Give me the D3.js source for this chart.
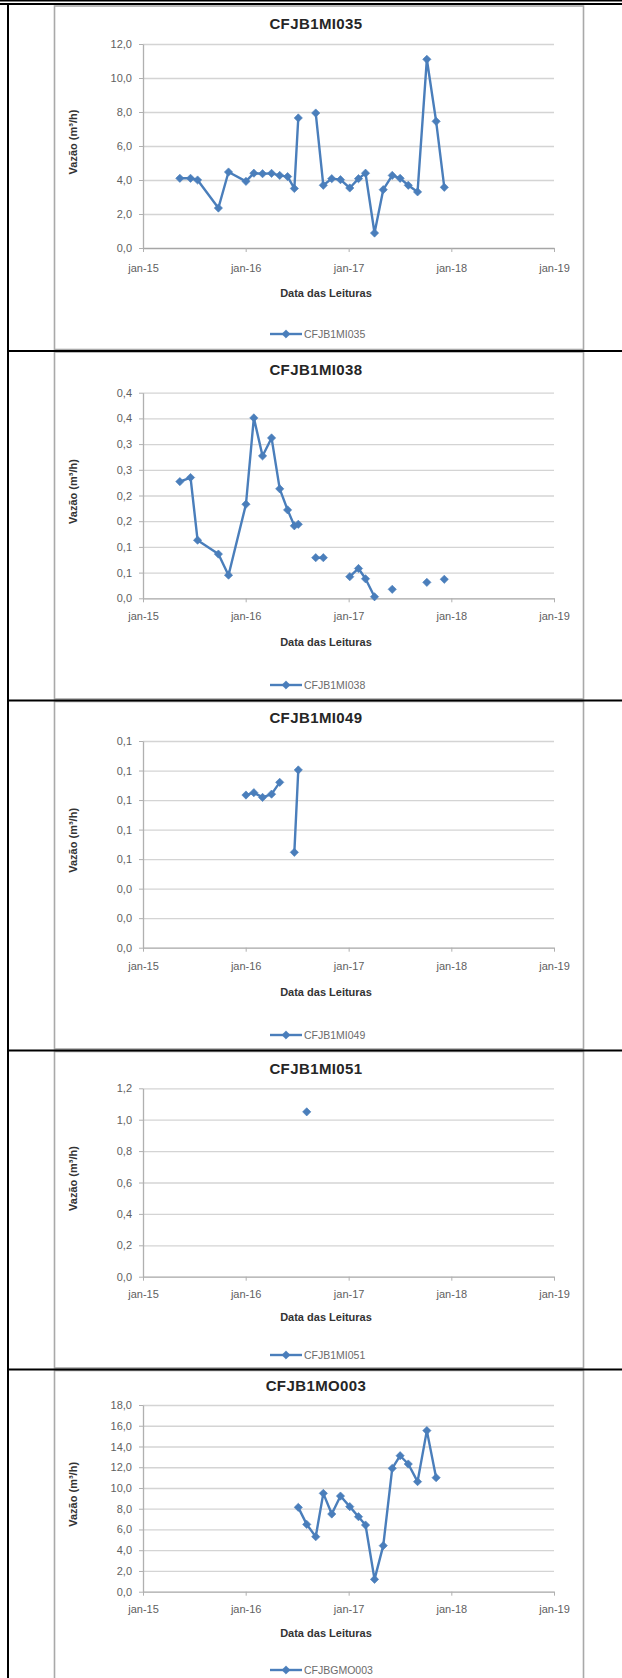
<!DOCTYPE html>
<html>
<head>
<meta charset="utf-8">
<script src="https://cdn.jsdelivr.net/npm/d3@7"></script>
<style>
  body { margin: 0; background: #fff; }
  svg { display: block; }
</style>
</head>
<body>
<svg width="622" height="1678"></svg>
<script>
// reading dates (shared by every instrument, null = no reading)
var readDates = ["2015-05-12", "2015-06-19", "2015-07-14", "2015-09-26", "2015-11-01",
    "2016-01-02", "2016-01-30", "2016-03-01", "2016-04-02", "2016-05-01", "2016-05-29",
    "2016-06-22", "2016-07-06", "2016-08-05", "2016-09-06", "2016-10-03", "2016-11-02",
    "2016-12-03", "2017-01-05", "2017-02-05", "2017-03-02", "2017-04-03", "2017-05-04",
    "2017-06-05", "2017-07-03", "2017-08-01", "2017-09-03", "2017-10-06", "2017-11-08",
    "2017-12-07"];

var vazao035 = [4.1, 4.1, 4.0, 2.35, 4.47, 3.92, 4.4, 4.37, 4.39, 4.27, 4.2, 3.5, 7.65, null,
    7.94, 3.69, 4.08, 4.02, 3.53, 4.08, 4.4, 0.88, 3.43, 4.27, 4.1, 3.69, 3.3, 11.1, 7.45, 3.57];
var vazao038 = [0.227, 0.235, 0.113, 0.086, 0.045, 0.183, 0.351, 0.277, 0.312, 0.213, 0.172,
    0.141, 0.144, null, 0.079, 0.079, null, null, 0.042, 0.058, 0.038, 0.003, null, 0.0175,
    null, null, null, 0.031, null, 0.037];
var vazao049 = [null, null, null, null, null, 0.1034, 0.105, 0.1018, 0.104, 0.112, null,
    0.0646, 0.1204, null, null, null, null, null, null, null, null, null, null, null, null,
    null, null, null, null, null];
var vazao051 = [null, null, null, null, null, null, null, null, null, null, null, null, null,
    1.05, null, null, null, null, null, null, null, null, null, null, null, null, null, null,
    null, null];
var vazao003 = [null, null, null, null, null, null, null, null, null, null, null, null,
    8.13, 6.49, 5.30, 9.48, 7.49, 9.22, 8.20, 7.23, 6.43, 1.19, 4.44, 11.89, 13.11, 12.31,
    10.61, 15.53, 10.99, null];

// axis ticks
var xTickDates = ["2015-01-01", "2016-01-01", "2017-01-01", "2018-01-01", "2019-01-01"];
var xTickLabels = ["jan-15", "jan-16", "jan-17", "jan-18", "jan-19"];

var yTicks035 = [0, 2, 4, 6, 8, 10, 12];
var yLabels035 = ["0,0", "2,0", "4,0", "6,0", "8,0", "10,0", "12,0"];
var yTicks038 = [0, 0.05, 0.1, 0.15, 0.2, 0.25, 0.3, 0.35, 0.4];
var yLabels038 = ["0,0", "0,1", "0,1", "0,2", "0,2", "0,3", "0,3", "0,4", "0,4"];
var yTicks049 = [0, 0.02, 0.04, 0.06, 0.08, 0.1, 0.12, 0.14];
var yLabels049 = ["0,0", "0,0", "0,0", "0,1", "0,1", "0,1", "0,1", "0,1"];
var yTicks051 = [0, 0.2, 0.4, 0.6, 0.8, 1.0, 1.2];
var yLabels051 = ["0,0", "0,2", "0,4", "0,6", "0,8", "1,0", "1,2"];
var yTicks003 = [0, 2, 4, 6, 8, 10, 12, 14, 16, 18];
var yLabels003 = ["0,0", "2,0", "4,0", "6,0", "8,0", "10,0", "12,0", "14,0", "16,0", "18,0"];

var parseDate = d3.timeParse("%Y-%m-%d");
var blue = "#4a7ebb";
var font = "'Liberation Sans', Arial, sans-serif";

// one table row per instrument (vertical layout of each chart picture)
var panels = [
    { name: "CFJB1MI035", legendName: "CFJB1MI035", values: vazao035, yTicks: yTicks035, yLabels: yLabels035,
      top: 5, bottom: 351, title: 23, plotTop: 44, plotBottom: 248, xLab: 268, xTitle: 293, legend: 334 },
    { name: "CFJB1MI038", legendName: "CFJB1MI038", values: vazao038, yTicks: yTicks038, yLabels: yLabels038,
      top: 351, bottom: 700.5, title: 369, plotTop: 392.7, plotBottom: 598.3, xLab: 616, xTitle: 642, legend: 685 },
    { name: "CFJB1MI049", legendName: "CFJB1MI049", values: vazao049, yTicks: yTicks049, yLabels: yLabels049,
      top: 700.5, bottom: 1050.5, title: 717.5, plotTop: 741, plotBottom: 947.7, xLab: 966, xTitle: 992, legend: 1035 },
    { name: "CFJB1MI051", legendName: "CFJB1MI051", values: vazao051, yTicks: yTicks051, yLabels: yLabels051,
      top: 1050.5, bottom: 1369.5, title: 1068, plotTop: 1088.3, plotBottom: 1276.7, xLab: 1294.3, xTitle: 1317, legend: 1355 },
    { name: "CFJB1MO003", legendName: "CFJBGMO003", values: vazao003, yTicks: yTicks003, yLabels: yLabels003,
      top: 1369.5, bottom: 1690, title: 1385, plotTop: 1405, plotBottom: 1591.7, xLab: 1609.3, xTitle: 1632.5, legend: 1670 }
];

var plotLeft = 143, plotRight = 554;

function diamond(sel) {
    sel.append("path")
        .attr("d", d3.symbol().type(d3.symbolSquare).size(34))
        .attr("fill", blue)
        .attr("stroke", blue)
        .attr("stroke-width", 0.6);
}

function drawPanel(svg, p, x) {
    var g = svg.append("g");

    // chart picture frame
    g.append("rect")
        .attr("x", 54.5)
        .attr("y", p.top + 1)
        .attr("width", 529)
        .attr("height", p.bottom - p.top - 2.5)
        .attr("fill", "#fff")
        .attr("stroke", "#a9a9a9")
        .attr("stroke-width", 1.6);

    // title
    g.append("text")
        .attr("x", 316)
        .attr("y", p.title)
        .attr("text-anchor", "middle")
        .attr("dominant-baseline", "central")
        .attr("font-family", font)
        .attr("font-weight", "bold")
        .attr("font-size", "15px")
        .attr("letter-spacing", "0.4px")
        .attr("fill", "#262626")
        .text(p.name);

    var y = d3.scaleLinear()
        .domain([p.yTicks[0], p.yTicks[p.yTicks.length - 1]])
        .range([p.plotBottom, p.plotTop]);

    // gridlines
    var grid = g.append("g")
        .attr("transform", "translate(" + plotLeft + ",0)")
        .call(d3.axisLeft(y).tickValues(p.yTicks.slice(1)).tickSize(-(plotRight - plotLeft)).tickFormat(""));
    grid.select(".domain").remove();
    grid.selectAll("line").attr("stroke", "#d4d4d4").attr("stroke-width", 1.3);

    // y axis with labels
    var yAxis = g.append("g")
        .attr("transform", "translate(" + plotLeft + ",0)")
        .call(d3.axisLeft(y).tickValues(p.yTicks).tickSize(4).tickSizeOuter(0).tickPadding(7)
            .tickFormat(function(d, i) { return p.yLabels[i]; }));
    yAxis.select(".domain").attr("stroke", "#b0b0b0").attr("stroke-width", 1.3);
    yAxis.selectAll("line").attr("stroke", "#b0b0b0");
    yAxis.selectAll("text")
        .attr("font-family", font)
        .attr("font-size", "11px")
        .attr("fill", "#5f5f5f");

    // x axis
    var xAxis = g.append("g")
        .attr("transform", "translate(0," + p.plotBottom + ")")
        .call(d3.axisBottom(x).tickValues(xTickDates.map(parseDate)).tickSize(4).tickSizeOuter(0)
            .tickFormat(function(d, i) { return xTickLabels[i]; }));
    xAxis.select(".domain").attr("stroke", "#a6a6a6").attr("stroke-width", 1.3);
    xAxis.selectAll("line").attr("stroke", "#b0b0b0");
    xAxis.selectAll("text")
        .attr("y", p.xLab - p.plotBottom)
        .attr("dy", "0.35em")
        .attr("font-family", font)
        .attr("font-size", "11px")
        .attr("fill", "#5f5f5f");

    // the series
    var data = readDates.map(function(d, i) { return { date: parseDate(d), value: p.values[i] }; });
    var line = d3.line()
        .defined(function(d) { return d.value != null; })
        .x(function(d) { return x(d.date); })
        .y(function(d) { return y(d.value); });

    g.append("path")
        .datum(data)
        .attr("fill", "none")
        .attr("stroke", blue)
        .attr("stroke-width", 2.4)
        .attr("stroke-linejoin", "round")
        .attr("d", line);

    g.selectAll(".pt")
        .data(data.filter(function(d) { return d.value != null; }))
        .enter().append("g")
        .attr("class", "pt")
        .attr("transform", function(d) { return "translate(" + x(d.date) + "," + y(d.value) + ") rotate(45)"; })
        .call(diamond);

    // axis titles
    g.append("text")
        .attr("transform", "translate(73," + ((p.plotTop + p.plotBottom) / 2 - 4) + ") rotate(-90)")
        .attr("text-anchor", "middle")
        .attr("dominant-baseline", "central")
        .attr("font-family", font)
        .attr("font-weight", "bold")
        .attr("font-size", "11px")
        .attr("fill", "#333")
        .text("Vazão (m³/h)");

    g.append("text")
        .attr("x", 326)
        .attr("y", p.xTitle)
        .attr("text-anchor", "middle")
        .attr("dominant-baseline", "central")
        .attr("font-family", font)
        .attr("font-weight", "bold")
        .attr("font-size", "11px")
        .attr("fill", "#333")
        .text("Data das Leituras");

    // legend
    var lg = g.append("g").attr("transform", "translate(0," + p.legend + ")");
    lg.append("line")
        .attr("x1", 270).attr("x2", 302)
        .attr("stroke", blue)
        .attr("stroke-width", 2.4);
    lg.append("g").attr("transform", "translate(286,0) rotate(45)").call(diamond);
    lg.append("text")
        .attr("x", 304)
        .attr("dominant-baseline", "central")
        .attr("font-family", font)
        .attr("font-size", "10.5px")
        .attr("fill", "#6b6b6b")
        .text(p.legendName);
}

function main() {
    var svg = d3.select("svg");

    svg.append("rect")
        .attr("width", 622)
        .attr("height", 1678)
        .attr("fill", "#fff");

    var x = d3.scaleTime()
        .domain([parseDate(xTickDates[0]), parseDate(xTickDates[xTickDates.length - 1])])
        .range([plotLeft, plotRight]);

    panels.forEach(function(p) { drawPanel(svg, p, x); });

    // table borders
    var borders = svg.append("g").attr("stroke", "#000");
    borders.append("line").attr("x1", 0).attr("x2", 622).attr("y1", 0.7).attr("y2", 0.7).attr("stroke-width", 1.5);
    borders.append("line").attr("x1", 0).attr("x2", 622).attr("y1", 4).attr("y2", 4).attr("stroke-width", 2);
    borders.append("line").attr("x1", 8).attr("x2", 8).attr("y1", 3).attr("y2", 1678).attr("stroke-width", 2);
    borders.selectAll(".row")
        .data(panels.slice(0, panels.length - 1))
        .enter().append("line")
        .attr("class", "row")
        .attr("x1", 8).attr("x2", 622)
        .attr("y1", function(p) { return p.bottom; })
        .attr("y2", function(p) { return p.bottom; })
        .attr("stroke-width", 2);
}

main();
</script>
</body>
</html>
